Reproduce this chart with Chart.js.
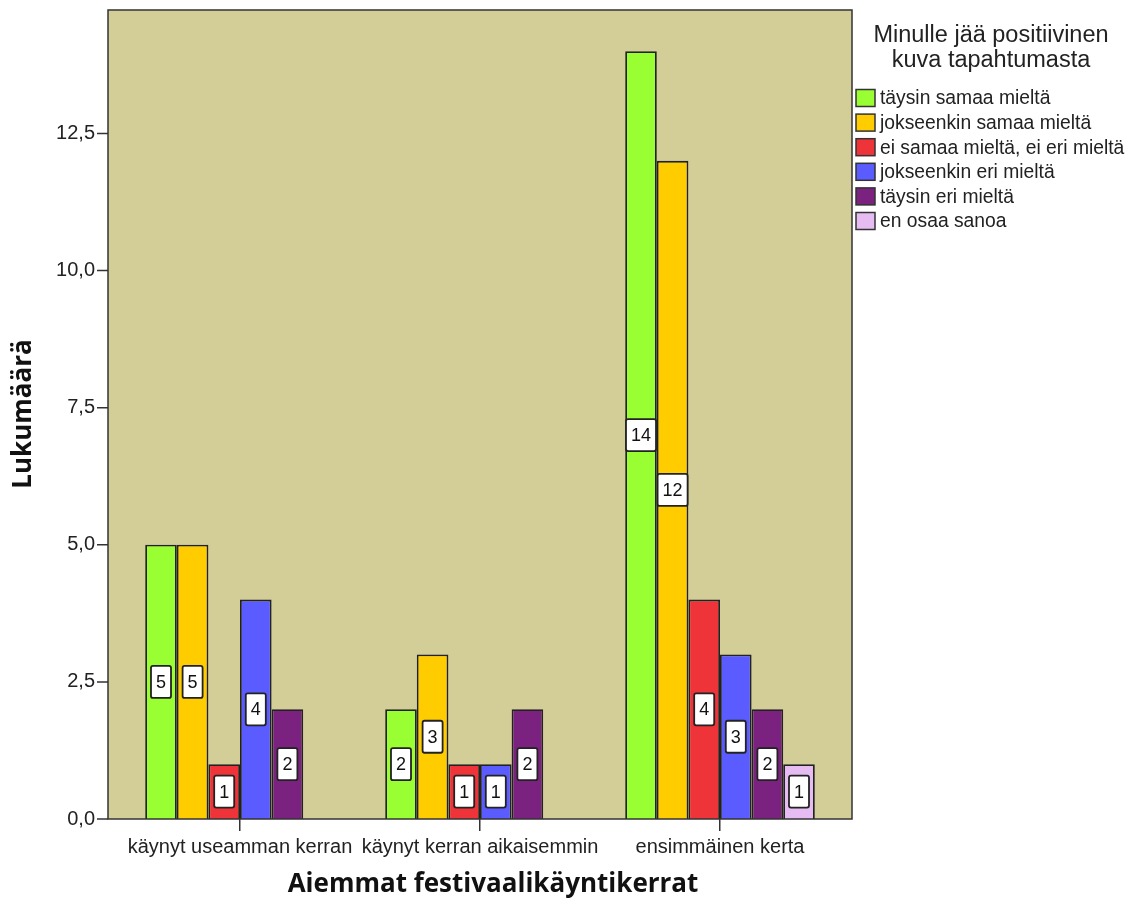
<!DOCTYPE html>
<html>
<head>
<meta charset="utf-8">
<script src="https://cdn.jsdelivr.net/npm/chart.js"></script>
<style>
  html, body { margin: 0; padding: 0; background: #fff; }
</style>
</head>
<body>
<canvas id="chart" width="1141" height="902"></canvas>
<script>
const categories = ["käynyt useamman kerran", "käynyt kerran aikaisemmin", "ensimmäinen kerta"];
const seriesNames = [
  "täysin samaa mieltä",
  "jokseenkin samaa mieltä",
  "ei samaa mieltä, ei eri mieltä",
  "jokseenkin eri mieltä",
  "täysin eri mieltä",
  "en osaa sanoa"
];
const taysinSamaa = [5, 2, 14];
const jokseenkinSamaa = [5, 3, 12];
const eiSamaaEiEri = [1, 1, 4];
const jokseenkinEri = [4, 1, 3];
const taysinEri = [2, 2, 2];
const enOsaaSanoa = [0, 0, 1];
const yTicks = [0, 2.5, 5, 7.5, 10, 12.5];

const seriesValues = [taysinSamaa, jokseenkinSamaa, eiSamaaEiEri, jokseenkinEri, taysinEri, enOsaaSanoa];
const colors = ["#99FF33", "#FFCC00", "#EE3339", "#5A5CFF", "#7B2280", "#E6BCF3"];
const legendTitle = ["Minulle jää positiivinen", "kuva tapahtumasta"];
const xTitle = "Aiemmat festivaalikäyntikerrat";
const yTitle = "Lukumäärä";

const PAD = 12; // frame sticks out past the category area
const SANS = "'Liberation Sans', Arial, sans-serif";

const framePlugin = {
  id: "frame",
  beforeDraw(chart) {
    const { ctx, chartArea: a } = chart;
    ctx.save();
    ctx.fillStyle = "#D3CD98";
    ctx.fillRect(a.left - PAD, a.top, a.right - a.left + 2 * PAD, a.bottom - a.top);
    ctx.restore();
  },
  afterDatasetsDraw(chart) {
    const { ctx, chartArea: a, scales } = chart;
    ctx.save();
    ctx.strokeStyle = "#333";
    ctx.lineWidth = 1.5;
    ctx.strokeRect(a.left - PAD, a.top, a.right - a.left + 2 * PAD, a.bottom - a.top);
    // y tick marks
    ctx.beginPath();
    scales.y.ticks.forEach(t => {
      const y = scales.y.getPixelForValue(t.value);
      ctx.moveTo(a.left - PAD - 11, y);
      ctx.lineTo(a.left - PAD, y);
    });
    ctx.stroke();
    ctx.restore();
  }
};

const valueLabels = {
  id: "valueLabels",
  afterDatasetsDraw(chart) {
    const ctx = chart.ctx;
    ctx.save();
    ctx.font = "18px " + SANS;
    ctx.textAlign = "center";
    ctx.textBaseline = "middle";
    chart.data.datasets.forEach((ds, i) => {
      chart.getDatasetMeta(i).data.forEach((bar, j) => {
        const v = ds.data[j];
        if (!v) return;
        const cy = (bar.y + bar.base) / 2;
        const w = ctx.measureText(String(v)).width + 10;
        const h = 32;
        ctx.beginPath();
        ctx.roundRect(bar.x - w / 2, cy - h / 2, w, h, 2);
        ctx.fillStyle = "#fff";
        ctx.fill();
        ctx.lineWidth = 1.8;
        ctx.strokeStyle = "#222";
        ctx.stroke();
        ctx.fillStyle = "#111";
        ctx.fillText(String(v), bar.x, cy + 1);
      });
    });
    ctx.restore();
  }
};

const titlesAndLegend = {
  id: "titlesAndLegend",
  afterDraw(chart) {
    const { ctx, chartArea: a } = chart;
    ctx.save();
    ctx.fillStyle = "#111";
    ctx.textBaseline = "middle";

    // axis titles
    ctx.font = "bold 26px 'Open Sans', sans-serif";
    ctx.textAlign = "center";
    ctx.fillText(xTitle, (a.left + a.right) / 2 + 13, 885);
    ctx.save();
    ctx.translate(24, 414);
    ctx.rotate(-Math.PI / 2);
    ctx.fillText(yTitle, 0, 0);
    ctx.restore();

    // legend
    const lx = a.right + PAD + 4;
    ctx.font = "23.5px " + SANS;
    ctx.fillStyle = "#222";
    legendTitle.forEach((line, i) => ctx.fillText(line, lx + 135, 36 + i * 25));
    ctx.font = "19.3px " + SANS;
    ctx.textAlign = "left";
    chart.data.datasets.forEach((ds, i) => {
      const y = 98 + i * 24.6;
      ctx.fillStyle = ds.backgroundColor;
      ctx.fillRect(lx, y - 8.5, 19, 17);
      ctx.strokeStyle = "#333";
      ctx.lineWidth = 1.5;
      ctx.strokeRect(lx, y - 8.5, 19, 17);
      ctx.fillStyle = "#222";
      ctx.fillText(ds.label, lx + 24, y + 1);
    });
    ctx.restore();
  }
};

new Chart(document.getElementById("chart"), {
  type: "bar",
  data: {
    labels: categories,
    datasets: seriesNames.map((name, i) => ({
      label: name,
      data: seriesValues[i],
      backgroundColor: colors[i],
      borderColor: "#222",
      borderWidth: 1.8,
      barPercentage: 1,
      categoryPercentage: 0.79
    }))
  },
  options: {
    responsive: false,
    devicePixelRatio: 1,
    animation: false,
    layout: { padding: { top: 10, right: 301, left: 0, bottom: 0 } },
    plugins: { legend: { display: false }, tooltip: { enabled: false } },
    scales: {
      x: {
        afterFit(s) { s.height = 83; s.paddingLeft = 0; s.paddingRight = 0; },
        grid: { display: true, drawOnChartArea: false, drawTicks: true, tickLength: 12, offset: false, color: "#333", lineWidth: 1.5 },
        border: { display: false },
        ticks: { padding: 4, color: "#222", autoSkip: false, maxRotation: 0, font: { family: SANS, size: 20 } }
      },
      y: {
        min: 0,
        max: 14.75,
        afterFit(s) { s.width = 120; s.paddingTop = 0; s.paddingBottom = 0; },
        afterBuildTicks(s) { s.ticks = yTicks.map(v => ({ value: v })); },
        grid: { display: false, drawTicks: false },
        border: { display: false },
        ticks: {
          padding: 25,
          color: "#222",
          font: { family: SANS, size: 20 },
          callback: v => v.toFixed(1).replace(".", ",")
        }
      }
    }
  },
  plugins: [framePlugin, valueLabels, titlesAndLegend]
});
</script>
</body>
</html>
